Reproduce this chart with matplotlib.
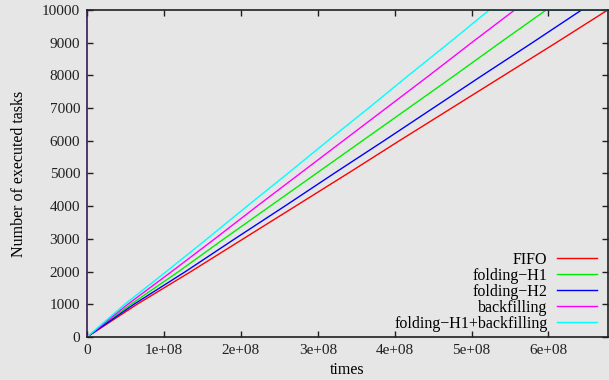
import numpy as np
import matplotlib.pyplot as plt

# tasks completed (checkpoints) and time (x1e8) at which each policy reached them
tasks = [0, 1000, 2000, 3000, 4000, 5000, 6000, 7000, 8000, 9000, 10000]
t_fifo = [0, 0.65, 1.35, 2.03, 2.71, 3.39, 4.06, 4.74, 5.42, 6.10, 6.77]
t_h2 = [0, 0.61, 1.28, 1.92, 2.57, 3.21, 3.86, 4.50, 5.14, 5.79, 6.43]
t_h1 = [0, 0.57, 1.19, 1.78, 2.38, 2.98, 3.58, 4.18, 4.78, 5.37, 5.97]
t_back = [0, 0.53, 1.10, 1.66, 2.21, 2.77, 3.33, 3.89, 4.45, 5.00, 5.56]
t_comb = [0, 0.49, 1.03, 1.56, 2.08, 2.61, 3.13, 3.66, 4.18, 4.71, 5.23]
t_end = 6.77

series = [("FIFO", t_fifo, "#ff0000"),
          ("folding\u2212H1", t_h1, "#00ee00"),
          ("folding\u2212H2", t_h2, "#0000ff"),
          ("backfilling", t_back, "#ff00ff"),
          ("folding\u2212H1+backfilling", t_comb, "#00ffff")]

plt.rcParams['font.family'] = ['Liberation Serif', 'DejaVu Serif']
bg = "#e6e6e6"
fig = plt.figure(figsize=(6.09, 3.8), dpi=100, facecolor=bg)
ax = fig.add_axes([0.1429, 0.1132, 0.855, 0.8605], facecolor=bg)

for name, t, col in series:
    x = np.array(t + [t_end]) * 1e8
    y = tasks + [10000]
    ax.plot(x, y, color=col, lw=1.0, label=name)

ax.set_xlim(0, t_end * 1e8)
ax.set_ylim(0, 10000)
ax.set_xticks(np.arange(0, 7) * 1e8)
ax.set_xticklabels(["0"] + ["%de+08" % i for i in range(1, 7)])
ax.set_yticks(np.arange(0, 10001, 1000))
ax.tick_params(direction='in', length=4.5, width=1, top=True, right=True,
               labelsize=11, colors='#202020', pad=5)
for s in ax.spines.values():
    s.set_linewidth(1.2)
    s.set_color('#202020')
ax.spines['left'].set_color('#3a1a50')
ax.set_xlabel("times", fontsize=11.5, labelpad=4)
ax.set_ylabel("Number of executed tasks", fontsize=11.5, labelpad=11)

leg = ax.legend(loc='lower right', bbox_to_anchor=(0.979, 0.015), markerfirst=False,
                frameon=False, fontsize=11.5, labelspacing=0.0, handlelength=2.5,
                handletextpad=0.6, borderaxespad=0, borderpad=0)
plt.savefig("out.png", dpi=100, facecolor=bg)
